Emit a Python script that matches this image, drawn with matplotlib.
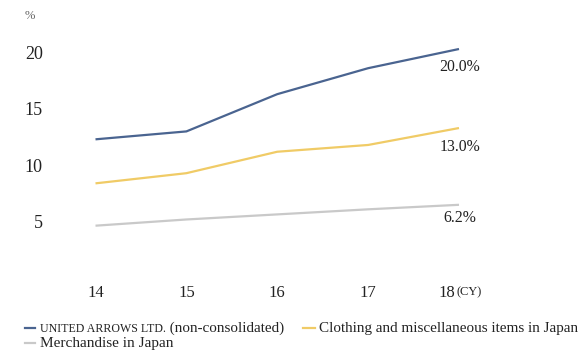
#!/usr/bin/env python3

"""
Operating margin style line chart, three series, calendar years 14-18
"""

import matplotlib
matplotlib.use('Agg')
import matplotlib.pyplot as plt
from matplotlib.lines import Line2D
from matplotlib.transforms import ScaledTranslation

years = [14, 15, 16, 17, 18]
year_labels = ['14', '15', '16', '17', '']
united_arrows = [12.0, 12.7, 16.0, 18.3, 20.0]
clothing = [8.1, 9.0, 10.9, 11.5, 13.0]
merchandise = [4.35, 4.9, 5.35, 5.8, 6.2]
end_labels = ['20.0%', '13.0%', '6.2%']
y_ticks = [5, 10, 15, 20]

BLUE = '#4a6490'
YELLOW = '#f0cb66'
GREY = '#c9c9c9'
TEXT = '#222222'

plt.rcParams['font.family'] = ['Liberation Serif', 'DejaVu Serif']


def main():
    fig = plt.figure(figsize=(5.79, 3.53), dpi=100)
    W, H = 579, 353
    # axes placed so that x=14 sits at px 95.5, x=18 at px 459, y=0 at px 274.8, y=20 at px 49
    ax = fig.add_axes([95.5 / W, (H - 274.8) / H, 363.5 / W, 225.8 / H])
    ax.set_xlim(14, 18)
    ax.set_ylim(0, 20)

    series = [(united_arrows, BLUE, -13.0), (clothing, YELLOW, -13.5), (merchandise, GREY, -9.5)]
    for (vals, col, off), lab in zip(series, end_labels):
        ax.plot(years, vals, color=col, lw=1.6, clip_on=False, solid_capstyle='butt')
        ax.annotate(lab, xy=(years[-1], vals[-1]), xytext=(0.5, off), textcoords='offset points',
                    ha='center', va='center', fontsize=11.3, color=TEXT)

    for s in ax.spines.values():
        s.set_visible(False)
    ax.set_xticks(years)
    ax.set_xticklabels(year_labels)
    ax.set_yticks(y_ticks)
    ax.set_yticklabels([str(t) for t in y_ticks])
    ax.tick_params(axis='both', length=0, colors=TEXT)
    ax.tick_params(axis='x', labelsize=12, pad=7)
    ax.tick_params(axis='y', labelsize=13, pad=38)
    # tick labels sit a little below their values in the reference
    shift = ScaledTranslation(0, -2.5 / 72, fig.dpi_scale_trans)
    for t in ax.get_yticklabels():
        t.set_transform(t.get_transform() + shift)

    # last year label with small (CY)
    ax.annotate('18', xy=(18, 0), xytext=(-3, -7), textcoords='offset points',
                ha='right', va='top', fontsize=12, color=TEXT, annotation_clip=False)
    ax.annotate('(CY)', xy=(18, 0), xytext=(-1.5, -8.5), textcoords='offset points',
                ha='left', va='top', fontsize=9, color=TEXT, annotation_clip=False)

    fig.text(30 / W, 1 - 16 / H, '%', fontsize=9, color='#666666', ha='center', va='center')

    # legend drawn by hand (small caps entry)
    row1, row2 = 332, 347
    t1 = fig.text(40 / W, 1 - row1 / H, 'UNITED ARROWS LTD.', fontsize=8.6, color=TEXT,
                  ha='left', va='baseline')
    fig.add_artist(plt.Annotation(' (non-consolidated)', xy=(1, 1 - row1 / H),
                                  xycoords=(t1, 'figure fraction'), fontsize=10.9, color=TEXT,
                                  ha='left', va='baseline', annotation_clip=False))
    fig.add_artist(Line2D([25 / W, 35 / W], [1 - 328 / H] * 2, color=BLUE, lw=1.6))
    fig.add_artist(Line2D([303 / W, 315 / W], [1 - 328 / H] * 2, color=YELLOW, lw=1.6))
    fig.add_artist(Line2D([25 / W, 35 / W], [1 - 343 / H] * 2, color=GREY, lw=1.6))
    fig.text(319 / W, 1 - row1 / H, 'Clothing and miscellaneous items in Japan', fontsize=10.9,
             color=TEXT, ha='left', va='baseline')
    fig.text(40 / W, 1 - row2 / H, 'Merchandise in Japan', fontsize=11, color=TEXT,
             ha='left', va='baseline')

    fig.savefig('out.png', dpi=100)


if __name__ == '__main__':
    main()
